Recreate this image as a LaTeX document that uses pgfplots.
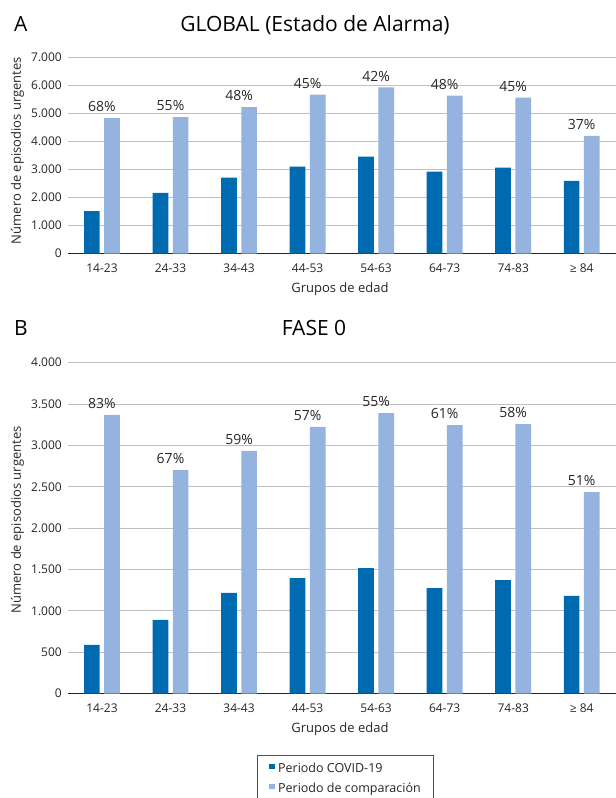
\documentclass[border=0pt]{standalone}
\usepackage{fontspec}
\setmainfont{Open Sans}
\usepackage{pgfplots}
\pgfplotsset{compat=1.18}
\definecolor{dblue}{HTML}{006AB0}
\definecolor{lblue}{HTML}{95B3DF}
\definecolor{gridc}{HTML}{C0C0C0}
\definecolor{txt}{HTML}{262626}
\pgfplotsset{
  mybars/.style={
    scale only axis, width=548.3bp,
    xmin=-0.5, xmax=7.5, ymin=0,
    ybar=4.5bp, bar width=15.7bp,
    xtick=data,
    xticklabels={14-23,24-33,34-43,44-53,54-63,64-73,74-83,≥ 84},
    major tick length=0pt,
    axis line style={draw=none},
    ymajorgrids, grid style={gridc, line width=1bp},
    extra y ticks={0},
    extra y tick style={grid style={txt, line width=1.3bp}},
    tick label style={font=\fontsize{12bp}{14bp}\selectfont, text=txt},
    yticklabel style={anchor=east, inner sep=0pt, xshift=-5.7bp},
    xticklabel style={anchor=base, inner sep=0pt, yshift=-19bp},
    scaled y ticks=false,
    /pgf/number format/1000 sep={.},
    /pgf/number format/assume math mode=true,
    ylabel={Número de episodios urgentes},
    ylabel style={at={(axis description cs:-0.0916,0.525)}, anchor=center, rotate=0,
      font=\fontsize{13bp}{15bp}\selectfont, text=txt},
    xlabel={Grupos de edad},
    xlabel style={at={(axis description cs:0.4965,0)}, anchor=base, yshift=-39bp,
      font=\fontsize{13bp}{15bp}\selectfont, text=txt},
    nodes near coords style={anchor=base, inner sep=0pt, xshift=-10.1bp, yshift=6.3bp,
      font=\fontsize{14bp}{16bp}\selectfont, text=txt},
  },
  covid/.style={fill=dblue, draw=none},
  comp/.style={fill=lblue, draw=none, nodes near coords, point meta=explicit symbolic},
}
\begin{document}
\begin{tikzpicture}
\useasboundingbox (0,0) rectangle (616bp,798bp);
% Panel A
\begin{axis}[mybars, at={(67.7bp,544.3bp)}, anchor=south west, height=196.4bp,
  ymax=7000, ytick={1000,2000,...,7000}]
\addplot[covid] coordinates {(0,1521) (1,2168) (2,2707) (3,3102) (4,3461) (5,2922) (6,3066) (7,2599)};
\addplot[comp] coordinates {(0,4835) [68\%] (1,4871) [55\%] (2,5224) [48\%] (3,5671) [45\%]
  (4,5929) [42\%] (5,5635) [48\%] (6,5565) [45\%] (7,4202) [37\%]};
\end{axis}
% Panel B
\begin{axis}[mybars, at={(67.7bp,104.3bp)}, anchor=south west, height=331bp,
  ymax=4000, ytick={500,1000,...,4000},
  legend style={at={(axis description cs:0.3447,-0.1855)}, anchor=north west,
    draw=txt!80, line width=0.9bp, inner xsep=12.3bp, inner ysep=7.3bp,
    row sep=6.4bp, column sep=3.4bp,
    nodes={inner sep=0pt, text height=10bp, text depth=3bp},
    font=\fontsize{12.5bp}{14bp}\selectfont, text=txt},
  legend cell align=left,
  legend image code/.code={\path[#1] (0bp,0bp) rectangle (5.3bp,5bp);}]
\addplot[covid] coordinates {(0,589) (1,891) (2,1217) (3,1398) (4,1519) (5,1277) (6,1374) (7,1181)};
\addplot[comp] coordinates {(0,3368) [83\%] (1,2703) [67\%] (2,2933) [59\%] (3,3223) [57\%]
  (4,3392) [55\%] (5,3247) [61\%] (6,3259) [58\%] (7,2437) [51\%]};
\legend{Periodo COVID-19, Periodo de comparación}
\end{axis}
% Panel titles
\node[anchor=base west, inner sep=0pt, font=\fontsize{21bp}{24bp}\selectfont] at (14bp,766.3bp) {A};
\node[anchor=base, inner sep=0pt, font=\fontsize{21bp}{24bp}\selectfont] at (315bp,766.3bp) {GLOBAL (Estado de Alarma)};
\node[anchor=base west, inner sep=0pt, font=\fontsize{21bp}{24bp}\selectfont] at (14bp,462bp) {B};
\node[anchor=base, inner sep=0pt, font=\fontsize{21bp}{24bp}\selectfont] at (314bp,462bp) {FASE 0};
\end{tikzpicture}
\end{document}
